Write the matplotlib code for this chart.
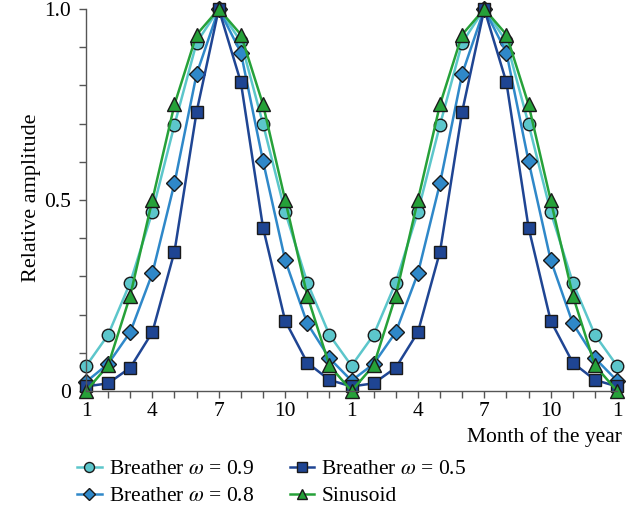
"""Relative amplitude of breather solutions vs. a sinusoid over two years."""

import matplotlib

matplotlib.use("Agg")
import matplotlib.pyplot as plt

plt.rcParams["font.family"] = ["Liberation Serif", "DejaVu Serif"]
plt.rcParams["mathtext.fontset"] = "stix"

months = list(range(1, 26))
tick_positions = [1, 4, 7, 10, 13, 16, 19, 22, 25]
tick_labels = ["1", "4", "7", "10", "1", "4", "7", "10", "1"]

breather_09 = [0.065, 0.147, 0.284, 0.469, 0.697, 0.912, 1.0, 0.915, 0.699, 0.469, 0.284, 0.147,
               0.066, 0.147, 0.284, 0.469, 0.697, 0.912, 1.0, 0.915, 0.699, 0.469, 0.284, 0.147, 0.066]
breather_08 = [0.024, 0.071, 0.154, 0.308, 0.544, 0.830, 1.0, 0.886, 0.602, 0.343, 0.177, 0.086,
               0.027, 0.071, 0.154, 0.308, 0.544, 0.830, 1.0, 0.886, 0.602, 0.343, 0.177, 0.086, 0.027]
breather_05 = [0.012, 0.020, 0.061, 0.154, 0.365, 0.731, 1.0, 0.808, 0.428, 0.184, 0.074, 0.029,
               0.012, 0.020, 0.061, 0.154, 0.365, 0.731, 1.0, 0.808, 0.428, 0.184, 0.074, 0.029, 0.012]
sinusoid = [0.0, 0.067, 0.25, 0.5, 0.75, 0.933, 1.0, 0.933, 0.75, 0.5, 0.25, 0.067,
            0.0, 0.067, 0.25, 0.5, 0.75, 0.933, 1.0, 0.933, 0.75, 0.5, 0.25, 0.067, 0.0]

series = [
    (breather_09, "Breather $\\omega$ = 0.9", "#5cc6cb", "o", 9),
    (breather_08, "Breather $\\omega$ = 0.8", "#2f88c9", "D", 8),
    (breather_05, "Breather $\\omega$ = 0.5", "#1f4593", "s", 8.5),
    (sinusoid, "Sinusoid", "#26a139", "^", 9.5),
]

FONT_SIZE = 15.5

fig = plt.figure(figsize=(6.36, 5.11), dpi=100)
ax = fig.add_axes([0.1352, 0.2348, 0.8350, 0.7476])

for values, label, color, marker, size in series:
    ax.plot(months, values, color=color, lw=1.8, marker=marker, markersize=size,
            markerfacecolor=color, markeredgecolor="#1a1a1a", markeredgewidth=1.0,
            label=label, clip_on=False)

ax.set_xlim(1, 25)
ax.set_ylim(0, 1)
ax.set_xticks(months, minor=True)
ax.set_xticks(tick_positions)
ax.set_xticklabels(tick_labels)
ax.set_yticks([i / 10 for i in range(11)], minor=True)
ax.set_yticks([0, 0.5, 1.0])
ax.set_yticklabels(["0", "0.5", "1.0"])

for side in ("top", "right"):
    ax.spines[side].set_visible(False)
for side in ("left", "bottom"):
    ax.spines[side].set_color("#555555")
    ax.spines[side].set_linewidth(1.0)

ax.tick_params(which="both", direction="out", length=5, width=1.0, color="#555555",
               labelsize=FONT_SIZE)
ax.tick_params(axis="y", pad=6)
ax.tick_params(axis="x", pad=3)

fig.text(32 / 636, 1 - 198 / 511, "Relative amplitude", fontsize=16,
         rotation=90, ha="center", va="center")
fig.text(622 / 636, 1 - 437 / 511, "Month of the year", fontsize=FONT_SIZE,
         ha="right", va="center")

fig.legend(loc="upper left", bbox_to_anchor=(77 / 636, 1 - 459 / 511), ncol=2,
           frameon=False, fontsize=FONT_SIZE, handlelength=1.15, handletextpad=0.33,
           columnspacing=1.65, labelspacing=0.33, borderaxespad=0, borderpad=0,
           markerscale=0.8)

fig.savefig("out.png", dpi=100)
